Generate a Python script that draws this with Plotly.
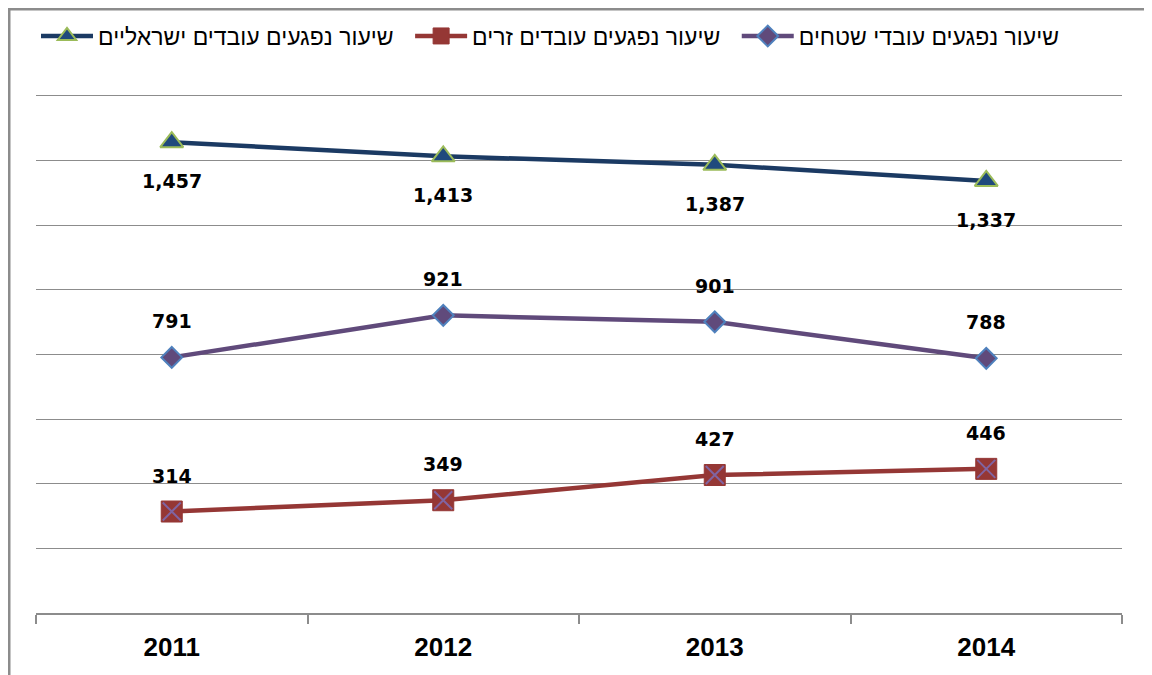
import plotly.graph_objects as go

years = ["2011", "2012", "2013", "2014"]
israeli = [1457, 1413, 1387, 1337]
foreign = [314, 349, 427, 446]
territories = [791, 921, 901, 788]

name_isr = "שיעור נפגעים עובדים ישראליים"
name_for = "שיעור נפגעים עובדים זרים"
name_ter = "שיעור נפגעים עובדי שטחים"

W, H = 1144, 667
ML, MR, MT, MB = 28, 30, 86, 62
PW, PH = W - ML - MR, H - MT - MB

fig = go.Figure()

fig.add_trace(go.Scatter(
    x=years, y=israeli, name=name_isr + "\u2002", mode="lines+markers",
    line=dict(color="#1B3A63", width=4.5),
    marker=dict(symbol="triangle-up", size=20, color="#1F497D",
                line=dict(color="#9BBB59", width=2)),
))
fig.add_trace(go.Scatter(
    x=years, y=foreign, name=name_for + "\u2002", mode="lines+markers",
    line=dict(color="#953735", width=4.5),
    marker=dict(symbol="square", size=21, color="#953735",
                line=dict(color="#953735", width=1)),
))
fig.add_trace(go.Scatter(
    x=years, y=foreign, showlegend=False, mode="markers", hoverinfo="skip",
    marker=dict(symbol="x-thin-open", size=18, color="#8064A2",
                line=dict(color="#7F6AB8", width=2)),
))
fig.add_trace(go.Scatter(
    x=years, y=territories, name=name_ter, mode="lines+markers",
    line=dict(color="#604A7B", width=4.5),
    marker=dict(symbol="diamond", size=16, color="#604A7B",
                line=dict(color="#4F81BD", width=2)),
))

label_font = dict(family="DejaVu Sans", size=19, color="black", weight="bold")
annotations = []
for i, v in enumerate(israeli):
    annotations.append(dict(x=i, y=v, xref="x", yref="y", text=f"{v:,}",
                            showarrow=False, yshift=-39, font=label_font))
for i, v in enumerate(territories):
    annotations.append(dict(x=i, y=v, xref="x", yref="y", text=f"{v:,}",
                            showarrow=False, yshift=36, font=label_font))
for i, v in enumerate(foreign):
    annotations.append(dict(x=i, y=v, xref="x", yref="y", text=f"{v:,}",
                            showarrow=False, yshift=36, font=label_font))

fig.update_layout(
    width=W, height=H,
    margin=dict(l=ML, r=MR, t=MT, b=MB),
    paper_bgcolor="white", plot_bgcolor="white",
    annotations=annotations,
    showlegend=True,
    legend=dict(orientation="h", xref="container", yref="container",
                x=28 / W, xanchor="left", y=1 - 28 / H, yanchor="middle",
                font=dict(family="Liberation Sans, Arial", size=23, color="black"),
                itemwidth=52, bgcolor="rgba(0,0,0,0)"),
    shapes=[dict(type="rect", xref="paper", yref="paper",
                 x0=(1 - ML) / PW, x1=(W - 2 - ML) / PW,
                 y0=-(MB + 10) / PH, y1=1 + (MT - 1) / PH,
                 line=dict(color="#8C8C8C", width=3), layer="below")],
)
fig.update_xaxes(
    type="category", showgrid=False, showline=True, linecolor="#8C8C8C", linewidth=1.5,
    ticks="outside", tickson="boundaries", ticklen=9, tickcolor="#8C8C8C", tickwidth=1.5,
    tickfont=dict(family="Liberation Sans, Arial", size=26, color="black", weight="bold"),
    ticklabelstandoff=10,
    range=[-0.5, 3.5],
)
fig.update_yaxes(
    range=[0, 1606], dtick=200, showgrid=True, gridcolor="#8C8C8C", gridwidth=1,
    showticklabels=False, zeroline=False, showline=False,
)

fig.write_html("out.html")
